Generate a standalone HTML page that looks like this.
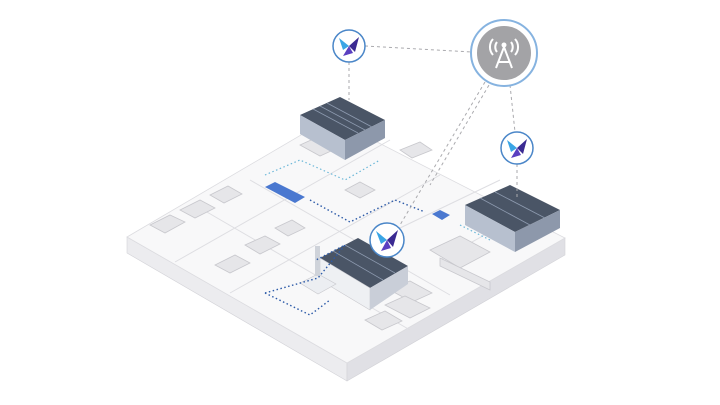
<!DOCTYPE html>
<html><head><style>
html,body{margin:0;padding:0;background:#fff;width:720px;height:405px;overflow:hidden}
</style></head><body>
<svg width="720" height="405" viewBox="0 0 720 405" xmlns="http://www.w3.org/2000/svg">
<!-- slab sides -->
<polygon points="127,237 347,363 347,381 127,253" fill="#ececef" stroke="#d2d2d7" stroke-width="0.6"/>
<polygon points="347,363 565,238 565,255 347,381" fill="#e0e0e5" stroke="#d2d2d7" stroke-width="0.6"/>
<!-- slab top -->
<polygon points="127,237 330,118 565,238 347,363" fill="#f8f8f9" stroke="#dcdce0" stroke-width="0.8"/>
<!-- roads -->
<g stroke="#dedee2" stroke-width="1" fill="none">
<line x1="175" y1="262" x2="390" y2="140"/>
<line x1="230" y1="293" x2="440" y2="175"/>
<line x1="250" y1="180" x2="450" y2="295"/>
<line x1="200" y1="208" x2="410" y2="330"/>
<line x1="400" y1="228" x2="500" y2="180"/>
<line x1="440" y1="260" x2="520" y2="215"/>
</g>
<!-- small gray buildings -->
<g fill="#e6e6e9" stroke="#c8c8cd" stroke-width="0.8">
<polygon points="150,225 170,215 185,222 165,233"/><polygon points="180,210 200,200 215,208 195,218"/>
<polygon points="210,195 228,186 242,194 224,203"/><polygon points="215,265 235,255 250,263 230,273"/>
<polygon points="245,245 265,236 280,244 260,254"/><polygon points="275,228 292,220 305,228 288,236"/>
<polygon points="400,150 420,142 432,150 412,158"/><polygon points="430,250 460,236 490,252 460,268"/>
<polygon points="440,258 490,282 490,290 440,266"/>
<polygon points="390,290 410,281 432,293 412,302"/><polygon points="385,305 405,296 430,308 410,318"/>
<polygon points="365,320 385,311 402,321 382,330"/>
<polygon points="345,190 360,182 375,190 360,198"/><polygon points="300,145 320,136 340,147 320,156"/>
</g>
<!-- north warehouse -->
<polygon points="300,115 340,97 385,120 345,140" fill="#4a5566"/>
<g stroke="#8e9bb0" stroke-width="0.8"><line x1="313" y1="109" x2="358" y2="133"/><line x1="327" y1="103" x2="372" y2="127"/><line x1="320" y1="106" x2="365" y2="130"/></g>
<polygon points="300,115 345,140 345,160 300,134" fill="#b7c0cf"/>
<polygon points="345,140 385,120 385,138 345,160" fill="#8d98ab"/>
<!-- east warehouse -->
<polygon points="465,205 510,185 560,210 515,232" fill="#4a5566"/>
<g stroke="#8e9bb0" stroke-width="0.8"><line x1="480" y1="198" x2="530" y2="225"/><line x1="495" y1="192" x2="545" y2="218"/></g>
<polygon points="465,205 515,232 515,252 465,225" fill="#b7c0cf"/>
<polygon points="515,232 560,210 560,228 515,252" fill="#8d98ab"/>
<!-- factory -->
<polygon points="320,258 358,238 408,266 370,288" fill="#4a5566"/>
<g stroke="#8e9bb0" stroke-width="0.8"><line x1="333" y1="251" x2="383" y2="280"/><line x1="345" y1="245" x2="395" y2="273"/></g>
<polygon points="320,258 370,288 370,310 320,280" fill="#eef0f3" stroke="#c8c8cd" stroke-width="0.6"/>
<polygon points="370,288 408,266 408,284 370,310" fill="#c9ced8"/>
<polygon points="300,283 318,274 336,284 318,294" fill="#eceef2" stroke="#c8c8cd" stroke-width="0.6"/>
<rect x="315" y="246" width="5" height="30" fill="#cfd3da"/>
<!-- trucks -->
<polygon points="265,187 275,182 305,197 295,203" fill="#4a78d0"/>
<polygon points="432,214 440,210 450,215 442,220" fill="#4a78d0"/>
<!-- dotted network -->
<g stroke="#2c5aa8" stroke-width="1.4" stroke-dasharray="1.5,2.5" fill="none">
<polyline points="310,200 350,222 395,200 425,212"/>
<polyline points="265,293 318,278 345,245 316,260"/>
<polyline points="265,293 310,315 330,300"/>
</g>
<g stroke="#6bb7d8" stroke-width="1.2" stroke-dasharray="1.5,2.5" fill="none">
<polyline points="265,175 300,160 345,180 380,160"/>
<polyline points="460,225 490,240"/>
</g>
<!-- connector lines -->
<g stroke="#aaaaae" stroke-width="1" stroke-dasharray="3,3" fill="none">
<line x1="365" y1="46" x2="472" y2="52"/>
<line x1="349" y1="62" x2="349" y2="100"/>
<line x1="485" y1="82" x2="400" y2="225"/>
<line x1="510" y1="85" x2="515" y2="132"/>
<line x1="517" y1="164" x2="517" y2="200"/>
<line x1="492" y1="80" x2="430" y2="185"/>
</g>
<!-- tower circle -->
<circle cx="504" cy="53" r="33" fill="#fff" stroke="#86b3e0" stroke-width="2"/>
<circle cx="504" cy="53" r="28" fill="#a3a3a6" stroke="#fff" stroke-width="2"/>
<g stroke="#fff" stroke-width="2" fill="none">
<path d="M504,47 L496,68 M504,47 L512,68 M498,62 L510,62"/>
<path d="M497,42 a8,8 0 0 0 0,10 M511,42 a8,8 0 0 1 0,10 M493,39 a12,12 0 0 0 0,16 M515,39 a12,12 0 0 1 0,16"/>
</g>
<circle cx="504" cy="45" r="2.5" fill="#fff"/>
<!-- butterfly icons -->
<circle cx="349" cy="46" r="16" fill="#fff" stroke="#4a86c8" stroke-width="1.5"/>
<path d="M349,46 L339,38 L343,50 Z" fill="#3aa5e5"/><path d="M349,46 L359,37 L355,52 Z" fill="#3b2a92"/><path d="M349,46 L343,56 L353,53 Z" fill="#5a3fc0"/>
<circle cx="517" cy="148" r="16" fill="#fff" stroke="#4a86c8" stroke-width="1.5"/>
<path d="M517,148 L507,140 L511,152 Z" fill="#3aa5e5"/><path d="M517,148 L527,139 L523,154 Z" fill="#3b2a92"/><path d="M517,148 L511,158 L521,155 Z" fill="#5a3fc0"/>
<circle cx="387" cy="240" r="17" fill="#fff" stroke="#4a86c8" stroke-width="1.5"/>
<path d="M387,240 L376,231 L381,244 Z" fill="#3aa5e5"/><path d="M387,240 L398,230 L393,247 Z" fill="#3b2a92"/><path d="M387,240 L381,251 L391,248 Z" fill="#5a3fc0"/>
</svg>
</body></html>
